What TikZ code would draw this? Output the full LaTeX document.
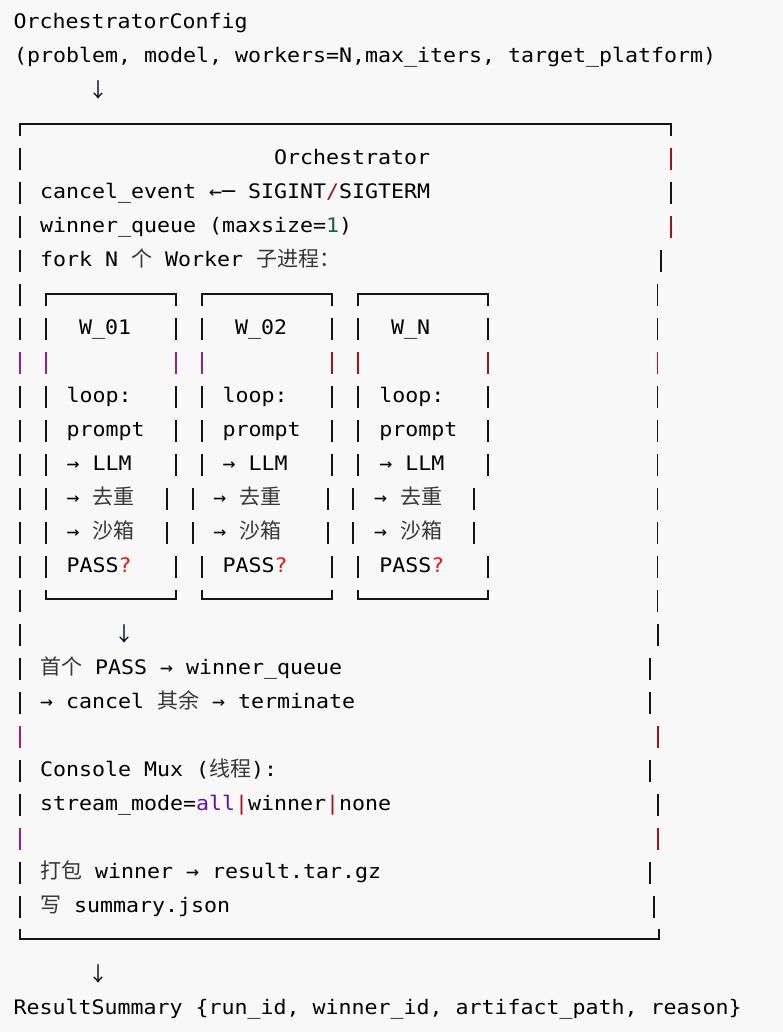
\documentclass[tikz,border=0pt]{standalone}
\usepackage{fontspec}
\newfontfamily\mono{DejaVu Sans Mono}[FakeStretch=1.08]
\newfontfamily\cjk{Noto Sans CJK SC}
\definecolor{bg}{HTML}{F8F8F8}
\definecolor{dred}{RGB}{163,21,21}
\definecolor{mag}{RGB}{150,30,150}
\definecolor{dgreen}{RGB}{17,102,68}
\definecolor{purp}{RGB}{90,20,170}
\definecolor{qred}{RGB}{240,20,20}
\definecolor{zhc}{RGB}{55,55,55}
\newcommand\zh[1]{{\fontsize{21}{21}\cjk\color{zhc}#1}}
\newcommand\darr{{\fontsize{20}{20}\cjk\color{black!85!blue}↓}}
\newcommand\vb[3][pk]{\draw[#1] (#2,#3-9) -- (#2,#3+13);}
\tikzset{
  txt/.style={anchor=base west, inner sep=0pt, outer sep=0pt, font=\fontsize{20}{20}\mono, text=black},
  ctr/.style={txt, anchor=base},
  pk/.style={draw=black!92, line width=1.3pt},
  pr/.style={draw=dred, line width=1.3pt},
  pm/.style={draw=mag, line width=1.3pt},
  frame/.style={draw=black!92, line width=1.6pt},
}
\begin{document}
\begin{tikzpicture}[x=1pt,y=-1pt]
\useasboundingbox (0,0) rectangle (783,1032);
\fill[bg] (0,0) rectangle (783,1032);

% header
\node[txt] (cfg) at (13.5,28.5) {OrchestratorConfig};
\node[txt] (cfgargs) at (14,62.5) {(problem, model, workers=N,max\_iters, target\_platform)};
\node[ctr] (arr1) at (98,97.5) {\darr};

% outer frame
\draw[frame] (20,136) -- (20,124) -- (671,124) -- (671,136);
\draw[frame] (20,929) -- (20,939) -- (659,939) -- (659,929);
\foreach \r in {157,191,...,905} {\vb{20}{\r}}
\foreach \r in {361,735,837} {\vb[pm]{20}{\r}}
\foreach \x/\r/\c in {671/157/pr,671/191/pk,671/225/pr,661/259/pk,
  657.5/293/pk,657.5/327/pk,657.5/361/pr,657.5/395/pk,657.5/429/pk,657.5/463/pk,
  657.5/497/pk,657.5/531/pk,657.5/565/pk,657.5/599/pk,658/633/pk,
  650/667/pk,650/701/pk,658/735/pr,650/769/pk,658/803/pk,658/837/pr,650/871/pk,654/905/pk}
  {\vb[\c]{\x}{\r}}

% orchestrator text
\node[txt] (orch) at (274,164.5) {Orchestrator};
\node[txt] (cancel) at (40,198.5) {cancel\_event ←─ SIGINT{\color{dred}/}SIGTERM};
\node[txt] (wq) at (40,232.5) {winner\_queue (maxsize={\color{dgreen}1})};
\node[txt] (fork) at (40,266.5) {fork N \zh{个} Worker \zh{子进程：}};

% worker boxes
\foreach \a/\b in {46/176,202/332,358/488} {
  \draw[frame] (\a,306) -- (\a,294) -- (\b,294) -- (\b,306);
  \draw[frame] (\a,590) -- (\a,599) -- (\b,599) -- (\b,590);
}
\foreach \r in {327,395,429,463,565} {
  \foreach \x in {46,176,202,332,358,488} {\vb{\x}{\r}}
}
\foreach \x in {46,176,202} {\vb[pm]{\x}{361}}
\foreach \x in {332,358,488} {\vb[pr]{\x}{361}}
\foreach \r in {497,531} {
  \foreach \x in {46,167,193,328,353,474} {\vb{\x}{\r}}
}

\node[txt] (w1) at (79,334.5) {W\_01};
\node[txt] (w2) at (235,334.5) {W\_02};
\node[txt] (wn) at (391,334.5) {W\_N};
\foreach \x/\n in {66.7/a,222.7/b,379.3/c} {
  \node[txt] (loop\n) at (\x,402.5) {loop:};
  \node[txt] (prompt\n) at (\x,436.5) {prompt};
  \node[txt] (llm\n) at (\x,470.5) {→ LLM};
  \node[txt] (pass\n) at (\x,572.5) {PASS{\color{qred}?}};
}
\foreach \x/\n in {66.7/a,213.3/b,374/c} {
  \node[txt] (dedup\n) at (\x,504.5) {→ \zh{去重}};
  \node[txt] (sandbox\n) at (\x,538.5) {→ \zh{沙箱}};
}

\node[ctr] (arr2) at (124,641.5) {\darr};
\node[txt] (first) at (40,674.5) {\zh{首个} PASS → winner\_queue};
\node[txt] (cancelrest) at (40,708.5) {→ cancel \zh{其余} → terminate};
\node[txt] (mux) at (40,776.5) {Console Mux (\zh{线程}):};
\node[txt] (stream) at (40,810.5) {stream\_mode={\color{purp}all}{\color{dred}|}winner{\color{dred}|}none};
\node[txt] (pack) at (40,878.5) {\zh{打包} winner → result.tar.gz};
\node[txt] (summ) at (40,912.5) {\zh{写} summary.json};

% footer
\node[ctr] (arr3) at (98,981.5) {\darr};
\node[txt] (res) at (13.5,1014.5) {ResultSummary \{run\_id, winner\_id, artifact\_path, reason\}};
\end{tikzpicture}
\end{document}
